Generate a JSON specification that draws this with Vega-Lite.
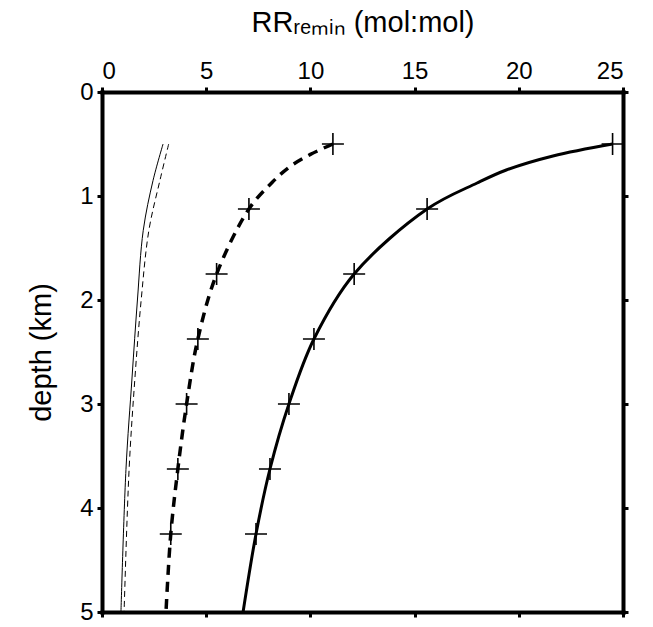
{
  "$schema": "https://vega.github.io/schema/vega-lite/v6.json",
  "width": 521,
  "height": 520,
  "autosize": "none",
  "padding": {"left": 102, "top": 92, "right": 30, "bottom": 15},
  "background": "white",
  "config": {
    "view": {"stroke": null},
    "font": "Liberation Sans",
    "axis": {
      "domainColor": "black", "domainWidth": 4, "domainCap": "square",
      "tickColor": "black", "tickWidth": 3, "tickSize": 5,
      "labelColor": "black", "labelFontSize": 24, "labelFont": "Liberation Sans",
      "titleFont": "Liberation Sans", "titleFontSize": 29, "titleFontWeight": "normal", "titleColor": "black",
      "grid": false
    }
  },
  "datasets": {
    "curves": [
      {"series": "A", "depth": 0.5, "rr": 24.5},
      {"series": "A", "depth": 0.615, "rr": 21.64},
      {"series": "A", "depth": 0.75, "rr": 19.4},
      {"series": "A", "depth": 0.875, "rr": 18.0},
      {"series": "A", "depth": 1.125, "rr": 15.6},
      {"series": "A", "depth": 1.75, "rr": 12.1},
      {"series": "A", "depth": 2.375, "rr": 10.17},
      {"series": "A", "depth": 3.0, "rr": 8.97},
      {"series": "A", "depth": 3.625, "rr": 8.06},
      {"series": "A", "depth": 4.25, "rr": 7.39},
      {"series": "A", "depth": 5.0, "rr": 6.77},
      {"series": "B", "depth": 0.5, "rr": 11.08},
      {"series": "B", "depth": 0.6, "rr": 10.0},
      {"series": "B", "depth": 0.72, "rr": 9.0},
      {"series": "B", "depth": 0.87, "rr": 8.16},
      {"series": "B", "depth": 1.125, "rr": 7.05},
      {"series": "B", "depth": 1.75, "rr": 5.5},
      {"series": "B", "depth": 2.375, "rr": 4.6},
      {"series": "B", "depth": 3.0, "rr": 4.06},
      {"series": "B", "depth": 3.625, "rr": 3.64},
      {"series": "B", "depth": 4.25, "rr": 3.3},
      {"series": "B", "depth": 5.0, "rr": 3.07},
      {"series": "C", "depth": 0.5, "rr": 2.93},
      {"series": "C", "depth": 0.85, "rr": 2.45},
      {"series": "C", "depth": 1.33, "rr": 1.98},
      {"series": "C", "depth": 2.0, "rr": 1.7},
      {"series": "C", "depth": 2.75, "rr": 1.44},
      {"series": "C", "depth": 3.63, "rr": 1.15},
      {"series": "C", "depth": 5.0, "rr": 0.91},
      {"series": "D", "depth": 0.5, "rr": 3.2},
      {"series": "D", "depth": 0.85, "rr": 2.78},
      {"series": "D", "depth": 1.33, "rr": 2.25},
      {"series": "D", "depth": 2.0, "rr": 1.88},
      {"series": "D", "depth": 2.75, "rr": 1.58},
      {"series": "D", "depth": 3.63, "rr": 1.3},
      {"series": "D", "depth": 5.0, "rr": 1.06}
    ],
    "markers": [
      {"series": "A", "depth": 0.5, "rr": 24.5},
      {"series": "A", "depth": 1.125, "rr": 15.6},
      {"series": "A", "depth": 1.75, "rr": 12.1},
      {"series": "A", "depth": 2.375, "rr": 10.17},
      {"series": "A", "depth": 3.0, "rr": 8.97},
      {"series": "A", "depth": 3.625, "rr": 8.06},
      {"series": "A", "depth": 4.25, "rr": 7.39},
      {"series": "B", "depth": 0.5, "rr": 11.08},
      {"series": "B", "depth": 1.125, "rr": 7.05},
      {"series": "B", "depth": 1.75, "rr": 5.5},
      {"series": "B", "depth": 2.375, "rr": 4.6},
      {"series": "B", "depth": 3.0, "rr": 4.06},
      {"series": "B", "depth": 3.625, "rr": 3.64},
      {"series": "B", "depth": 4.25, "rr": 3.3}
    ]
  },
  "layer": [
    {
      "data": {"name": "curves"},
      "transform": [{"filter": "datum.series === 'A'"}],
      "mark": {"type": "line", "color": "black", "strokeWidth": 3, "interpolate": "catmull-rom"},
      "encoding": {
        "x": {"field": "rr", "type": "quantitative", "scale": {"domain": [0, 25], "nice": false},
              "axis": {"orient": "top", "title": "RRᵣₑₘᵢₙ (mol:mol)", "values": [0, 5, 10, 15, 20, 25], "titlePadding": 22, "labelPadding": 4}},
        "y": {"field": "depth", "type": "quantitative", "scale": {"domain": [0, 5], "reverse": true, "nice": false},
              "axis": {"orient": "left", "title": "depth (km)", "values": [0, 1, 2, 3, 4, 5], "titlePadding": 23, "labelPadding": 4}},
        "order": {"field": "depth"}
      }
    },
    {
      "data": {"name": "curves"},
      "transform": [{"filter": "datum.series === 'B'"}],
      "mark": {"type": "line", "color": "black", "strokeWidth": 3.5, "strokeDash": [10, 7], "interpolate": "catmull-rom"},
      "encoding": {
        "x": {"field": "rr", "type": "quantitative", "axis": {"orient": "bottom", "labels": false, "title": null, "values": [0, 5, 10, 15, 20, 25]}},
        "y": {"field": "depth", "type": "quantitative", "axis": {"orient": "right", "labels": false, "title": null, "values": [0, 1, 2, 3, 4, 5]}},
        "order": {"field": "depth"}
      }
    },
    {
      "data": {"name": "curves"},
      "transform": [{"filter": "datum.series === 'C'"}],
      "mark": {"type": "line", "color": "black", "strokeWidth": 1, "interpolate": "catmull-rom"},
      "encoding": {
        "x": {"field": "rr", "type": "quantitative", "axis": null},
        "y": {"field": "depth", "type": "quantitative", "axis": null},
        "order": {"field": "depth"}
      }
    },
    {
      "data": {"name": "curves"},
      "transform": [{"filter": "datum.series === 'D'"}],
      "mark": {"type": "line", "color": "black", "strokeWidth": 1, "strokeDash": [6, 4], "interpolate": "catmull-rom"},
      "encoding": {
        "x": {"field": "rr", "type": "quantitative", "axis": null},
        "y": {"field": "depth", "type": "quantitative", "axis": null},
        "order": {"field": "depth"}
      }
    },
    {
      "data": {"name": "markers"},
      "mark": {"type": "point", "shape": "M-1,0H1M0,-1V1", "size": 484, "filled": false, "stroke": "black", "strokeWidth": 1.6, "opacity": 1},
      "encoding": {
        "x": {"field": "rr", "type": "quantitative", "axis": null},
        "y": {"field": "depth", "type": "quantitative", "axis": null}
      }
    }
  ]
}
